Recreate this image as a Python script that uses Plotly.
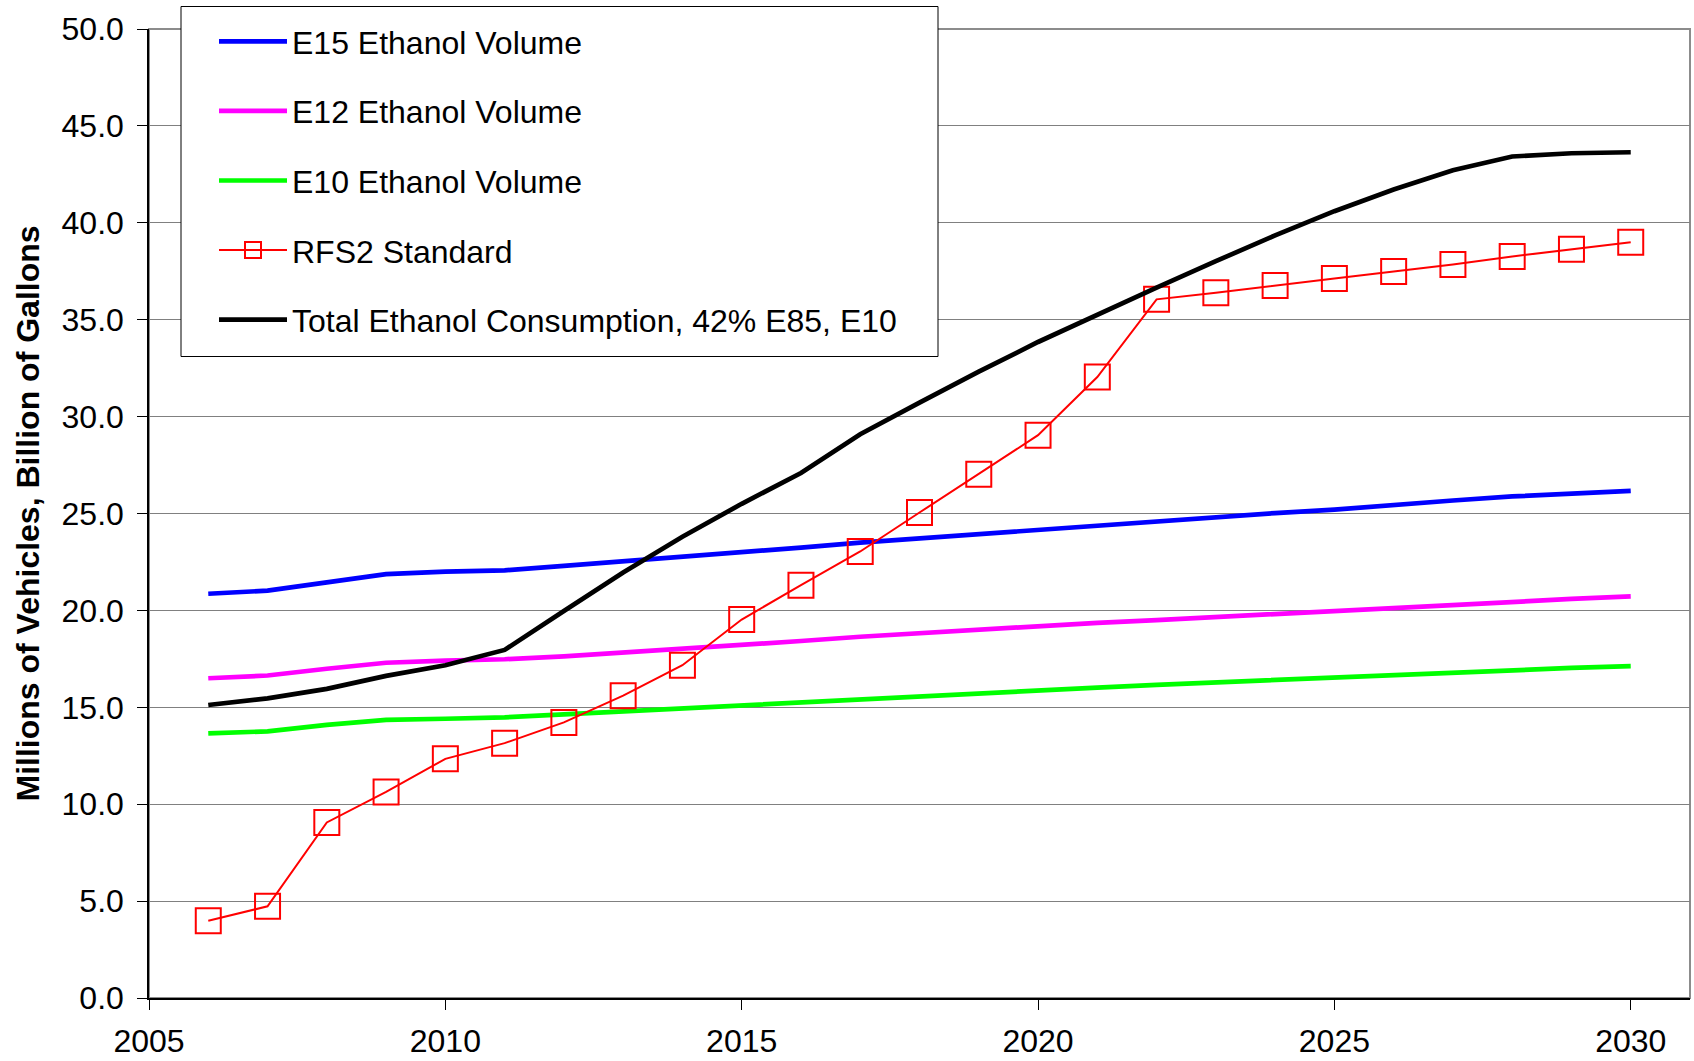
import plotly.graph_objects as go

years = list(range(2006, 2031))

e15 = [20.86, 21.02, 21.45, 21.87, 22.00, 22.07, 22.30, 22.52, 22.76, 22.98, 23.24, 23.50,
       23.72, 23.97, 24.20, 24.41, 24.62, 24.81, 25.02, 25.20, 25.45, 25.67, 25.88, 26.03, 26.17]
e12 = [16.50, 16.64, 16.99, 17.30, 17.41, 17.48, 17.63, 17.82, 18.00, 18.24, 18.42, 18.64,
       18.83, 19.00, 19.17, 19.36, 19.50, 19.66, 19.83, 20.00, 20.16, 20.31, 20.47, 20.59, 20.72]
e10 = [13.65, 13.76, 14.09, 14.35, 14.41, 14.48, 14.63, 14.79, 14.92, 15.07, 15.22, 15.38,
       15.53, 15.71, 15.86, 16.02, 16.16, 16.29, 16.43, 16.57, 16.69, 16.81, 16.95, 17.03, 17.12]
rfs2 = [3.99, 4.73, 9.06, 10.63, 12.34, 13.15, 14.22, 15.60, 17.17, 19.53, 21.30, 23.04,
        25.05, 27.03, 29.04, 32.04, 36.05, 36.39, 36.77, 37.13, 37.49, 37.85, 38.26, 38.63, 39.00]
total = [15.12, 15.46, 15.95, 16.62, 17.17, 17.96, 19.97, 21.96, 23.80, 25.50, 27.09, 29.09,
         30.72, 32.32, 33.85, 35.27, 36.65, 38.02, 39.35, 40.60, 41.72, 42.71, 43.42, 43.59, 43.64]

names = ["E15 Ethanol Volume", "E12 Ethanol Volume", "E10 Ethanol Volume",
         "RFS2 Standard", "Total Ethanol Consumption, 42% E85, E10"]
x_ticks = [2005, 2010, 2015, 2020, 2025, 2030]
y_ticks = [0, 5, 10, 15, 20, 25, 30, 35, 40, 45, 50]

FONT = "Liberation Sans, Arial, sans-serif"

fig = go.Figure()
thick = 4.7
for name, vals, color in [(names[0], e15, "#0000FF"), (names[1], e12, "#FF00FF"),
                          (names[2], e10, "#00FF00")]:
    fig.add_trace(go.Scatter(x=years, y=vals, name=name, mode="lines", legendgroup=name,
                             line=dict(color=color, width=thick)))
fig.add_trace(go.Scatter(x=years, y=rfs2, name=names[3], mode="lines+markers", legendgroup=names[3],
                         line=dict(color="#FF0000", width=2),
                         marker=dict(symbol="square-open", size=25, color="#FF0000",
                                     line=dict(width=2, color="#FF0000"))))
fig.add_trace(go.Scatter(x=years, y=total, name=names[4], mode="lines", legendgroup=names[4],
                         line=dict(color="#000000", width=thick)))

# legend frame
fig.add_shape(type="rect", xref="paper", yref="paper",
              x0=(181 - 149) / 1541, x1=(938 - 149) / 1541,
              y0=1 - (356.5 - 29) / 969, y1=1 + (29 - 6.5) / 969,
              line=dict(color="black", width=1), fillcolor="white", layer="above")
# plot-area border (top/right)
fig.add_shape(type="rect", xref="paper", yref="paper", x0=0, x1=1, y0=0, y1=1,
              line=dict(color="#8c8c8c", width=2), layer="below")

fig.update_layout(
    width=1694, height=1061,
    margin=dict(l=149, r=4, t=29, b=63, autoexpand=False),
    paper_bgcolor="white", plot_bgcolor="white",
    font=dict(family=FONT, size=32, color="black"),
    showlegend=True,
    legend=dict(x=(214 - 149) / 1541, y=1 + (29 - 14) / 969, xanchor="left", yanchor="top",
                bgcolor="rgba(0,0,0,0)", borderwidth=0,
                font=dict(family=FONT, size=32, color="black"),
                traceorder="grouped", tracegroupgap=25, itemwidth=68),
    xaxis=dict(range=[2005, 2031], tickvals=x_ticks, ticktext=[str(v) for v in x_ticks],
               automargin=False,
               showgrid=False, zeroline=False, showline=True, linecolor="black", linewidth=1.5,
               ticks="outside", ticklen=10, tickcolor="black", tickwidth=1,
               ticklabelstandoff=4, tickfont=dict(size=32)),
    yaxis=dict(range=[0, 50], tickvals=y_ticks, ticktext=[f"{v:.1f}" for v in y_ticks],
               automargin=False,
               showgrid=True, gridcolor="#808080", gridwidth=1,
               zeroline=False, showline=True, linecolor="black", linewidth=1.5,
               ticks="outside", ticklen=10, tickcolor="black", tickwidth=1,
               ticklabelstandoff=7, tickfont=dict(size=32),
               title=dict(text="<b>Millions of Vehicles, Billion of Gallons</b>",
                          font=dict(size=32), standoff=12)),
)

fig.write_html("out.html")
